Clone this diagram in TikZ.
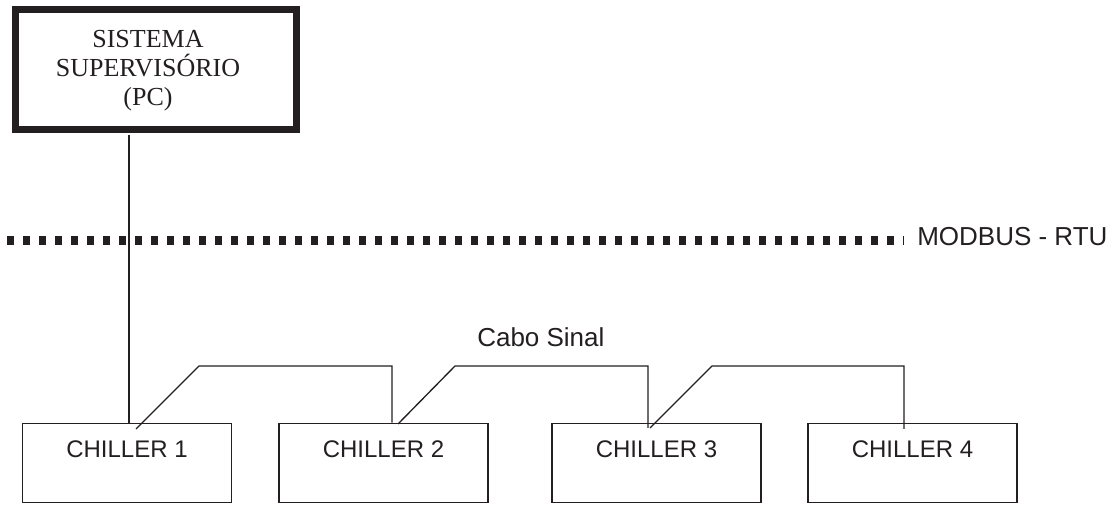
\documentclass[tikz,border=0pt]{standalone}
\usepackage{fontspec}
\setmainfont{Liberation Serif}
\newfontfamily\arialfont{Liberation Sans}
\definecolor{inkc}{HTML}{231F20}
\begin{document}
\begin{tikzpicture}[x=0.75pt,y=-0.75pt,
  pcbox/.style={draw=inkc,line width=5.25pt,minimum width=210.75pt,minimum height=90pt,inner sep=0pt},
  pctext/.style={inner sep=0pt,align=center,text=inkc,font=\fontsize{19.5}{21.75}\selectfont},
  chbox/.style={draw=inkc,line width=1pt,minimum width=156.75pt,minimum height=59.5pt,inner sep=0pt},
  chtext/.style={inner sep=0pt,text=inkc,font=\arialfont\fontsize{18}{21}\selectfont},
  lbltext/.style={inner sep=0pt,text=inkc,font=\arialfont\fontsize{19.5}{23}\selectfont},
  wire/.style={draw=inkc,line width=1pt},
  bus/.style={draw=inkc,line width=6.75pt,dash pattern=on 5.25pt off 6.75pt}
]
\useasboundingbox (0,0) rectangle (1113,505);

% supervisory PC
\node[pcbox] (pc) at (156,69.5) {};
\node[pctext,anchor=north] (pct) at (148,30) {SISTEMA\\SUPERVISÓRIO\\(PC)};

% chillers
\node[chbox] (c1) at (127,463) {};
\node[chbox] (c2) at (383.5,463) {};
\node[chbox] (c3) at (656.5,463) {};
\node[chbox] (c4) at (912.5,463) {};
\node[chtext,anchor=base] (t1) at (127,457) {CHILLER 1};
\node[chtext,anchor=base] (t2) at (383.5,457) {CHILLER 2};
\node[chtext,anchor=base] (t3) at (656.5,457) {CHILLER 3};
\node[chtext,anchor=base] (t4) at (912.5,457) {CHILLER 4};

% MODBUS bus
\coordinate (busl) at (7,241);
\coordinate (busr) at (904,241);
\draw[bus] (busl) -- (busr);
\node[lbltext,anchor=base west] (modbus) at (917,246) {MODBUS - RTU};

% PC drop line
\coordinate (drop) at (129,135);
\draw[wire] (drop) -- (drop |- c1.north);

% signal cable
\node[lbltext,anchor=base west] (cabo) at (477,347) {Cabo Sinal};
\coordinate (a1) at (136,429);
\coordinate (b1) at (199,366);
\coordinate (e1) at (392,366);
\coordinate (a2) at (398,424);
\coordinate (b2) at (455,366);
\coordinate (e2) at (648,366);
\coordinate (a3) at (650,428);
\coordinate (b3) at (712,366);
\coordinate (e3) at (904,366);
\draw[wire] (a1) -- (b1) -- (e1) -- (e1 |- c2.north);
\draw[wire] (a2) -- (b2) -- (e2) -- ++(0,62);
\draw[wire] (a3) -- (b3) -- (e3) -- ++(0,63);
\end{tikzpicture}
\end{document}
